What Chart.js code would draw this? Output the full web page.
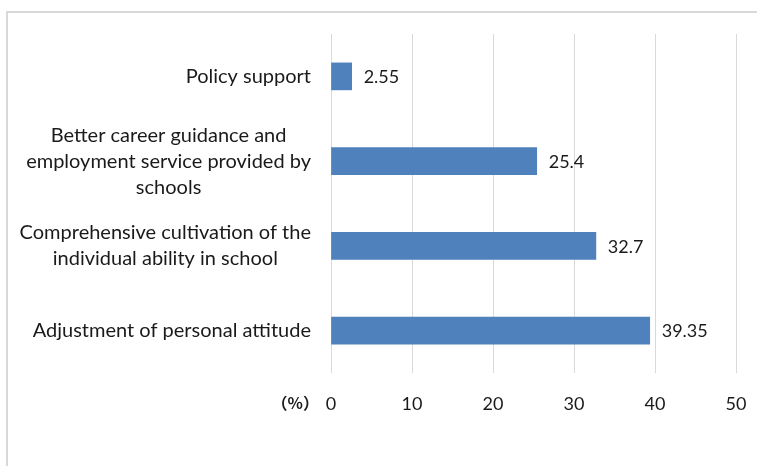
<!DOCTYPE html>
<html>
<head>
<meta charset="utf-8">
<script src="https://cdn.jsdelivr.net/npm/chart.js@4/dist/chart.umd.min.js"></script>
<style>
  html, body { margin: 0; padding: 0; background: #fff; overflow: hidden; }
  #frame { position: absolute; left: 6px; top: 11px; width: 800px; height: 500px;
           border: 2px solid #d9d9d9; box-sizing: border-box; }
  #wrap { position: absolute; left: 0; top: 0; width: 757px; height: 466px; }
</style>
</head>
<body>
<div id="frame"></div>
<div id="wrap"><canvas id="chart" width="757" height="466"></canvas></div>
<script>
// --- Data ---
const categories = [
  ["Policy support"],
  ["Better career guidance and", "employment service provided by", "schools"],
  ["Comprehensive cultivation of the", "individual ability in school"],
  ["Adjustment of personal attitude"]
];
const values = [2.55, 25.4, 32.7, 39.35];
const xTicks = [0, 10, 20, 30, 40, 50];
const unitLabel = "（%）";

const FONT = "Lato, 'Open Sans', sans-serif";
const TEXT = "#1a1a1a";

// Category labels: block right-aligned, lines centred inside block (Excel style).
const catLabels = {
  id: "catLabels",
  afterDraw(chart) {
    const { ctx, scales: { y, x } } = chart;
    ctx.save();
    ctx.font = `20px ${FONT}`;
    ctx.fillStyle = TEXT;
    ctx.textAlign = "center";
    ctx.textBaseline = "middle";
    const right = chart.chartArea.left - 20;
    const lh = 26;
    categories.forEach((lines, i) => {
      const cy = y.getPixelForValue(i);
      const maxW = Math.max(...lines.map((l) => ctx.measureText(l).width));
      const cx = right - maxW / 2;
      lines.forEach((l, j) => {
        ctx.fillText(l, cx, cy + (j - (lines.length - 1) / 2) * lh);
      });
    });
    // value labels at bar ends
    ctx.font = `18px ${FONT}`;
    ctx.textAlign = "left";
    values.forEach((v, i) => {
      ctx.fillText(String(v), x.getPixelForValue(v) + 12, y.getPixelForValue(i) + 1);
    });
    // unit label left of the 0 tick
    ctx.font = `bold 16px 'Noto Sans CJK SC', ${FONT}`;
    ctx.textAlign = "right";
    ctx.fillText(unitLabel, x.getPixelForValue(0) - 12, 403);
    ctx.restore();
  }
};

new Chart(document.getElementById("chart"), {
  type: "bar",
  data: {
    labels: categories.map((c) => c.join(" ")),
    datasets: [{
      data: values,
      backgroundColor: "#4f81bd",
      borderWidth: 0,
      barThickness: 27
    }]
  },
  options: {
    indexAxis: "y",
    responsive: false,
    animation: false,
    layout: { padding: { top: 34, right: 21, left: 0, bottom: 0 } },
    plugins: { legend: { display: false }, tooltip: { enabled: false } },
    scales: {
      x: {
        min: 0, max: 50,
        afterBuildTicks: (s) => { s.ticks = xTicks.map((v) => ({ value: v })); },
        afterFit: (s) => { s.height = 93; s.paddingLeft = 0; s.paddingRight = 0; },
        grid: { color: "#d9d9d9", drawTicks: false },
        border: { display: false },
        ticks: { color: TEXT, font: { family: FONT, size: 18 }, padding: 20 }
      },
      y: {
        afterFit: (s) => { s.width = 331; },
        grid: { display: false },
        border: { display: false },
        ticks: { display: false }
      }
    }
  },
  plugins: [catLabels]
});
</script>
</body>
</html>
